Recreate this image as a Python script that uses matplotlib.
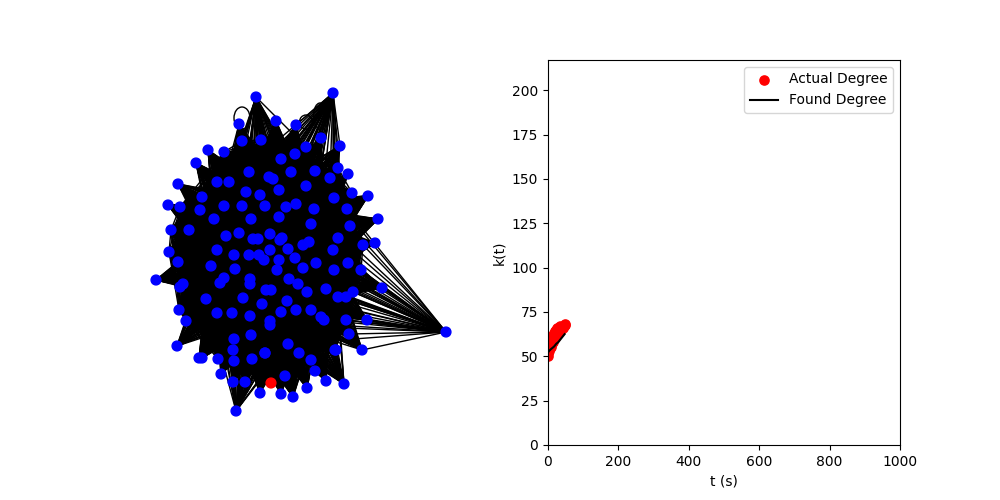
import numpy as np
import matplotlib
matplotlib.use('Agg')
import matplotlib.pyplot as plt
from matplotlib.collections import LineCollection
from matplotlib.patches import Ellipse

# node positions, picture pixels
node_x = [256,333,239,276,296,242,261,321,306,340,208,224,196,295,281,249,291,315,338,348,
          269,273,330,217,229,178,306,279,246,260,352,368,202,334,168,180,224,242,265,286,
          296,314,347,200,378,214,251,279,311,350,171,189,239,226,270,253,258,282,280,338,
          309,303,363,375,169,217,270,288,333,234,249,259,264,279,178,316,295,303,348,211,
          235,277,334,361,156,224,220,250,250,289,298,271,266,183,180,307,326,382,353,346,
          338,206,243,287,262,179,296,311,281,217,232,250,270,346,186,367,321,324,270,446,
          349,336,233,234,202,252,265,288,177,265,362,335,299,251,199,218,234,311,315,221,
          233,245,285,326,344,271,260,281,293,307,236]
node_y = [97,93,124,121,125,141,140,138,147,146,150,152,163,154,159,172,172,171,168,174,
          177,179,178,182,182,184,186,190,192,195,193,196,197,198,205,207,206,206,206,207,
          204,209,209,210,219,219,219,217,224,226,230,230,233,236,234,239,239,238,240,238,
          242,245,245,243,252,250,250,249,250,255,255,255,260,260,262,263,258,268,263,266,
          269,270,270,270,280,278,283,279,284,279,284,290,290,284,287,292,289,288,292,297,
          297,299,298,301,304,310,310,310,312,313,313,316,321,320,321,320,317,320,325,332,
          334,350,350,339,358,359,353,344,346,353,350,350,353,335,358,359,361,360,371,374,
          382,382,376,381,384,383,393,394,397,388,411]

red_node = (271, 383)

# extra long edges seen outside the dense part, (x, y) of both ends
edge_from = [(256,97), (333,93), (446,332), (446,332), (446,332)]
edge_to = [(306,147), (340,146), (367,321), (382,288), (362,350)]

# self loops: centre x, centre y, width, height
loop_x = [242, 306, 320]
loop_y = [118, 122, 116]
loop_w = [16, 13, 13]
loop_h = [22, 14, 26]

# body of the network
body_x, body_y = 268, 255
body_rx, body_ry = 105, 135
fan_size = 45
fan_angle = 28

# right panel, degree scatters around the trend so a low and a high run are kept
t_actual = [0,2,4,6,8,10,12,14,16,18,20,22,24,26,28,30,32,34,36,38,40,42,44,46,48,50,
            2,5,8,11,14,17,20,23,26,29,32,35]
k_actual = [50,52,53,54.5,55.5,56.5,57.5,58,59,60,60.5,61,62,62.5,63,63.5,64,64.5,65,65.5,66,66,66.5,67,67.5,68,
            55,57,59,61,62,63,64,65,66,66,66,67]
t_found = [0,6,12,18,24,30,36,42,48]
k_found = [52,53.5,54.5,55.5,57,58,59.5,61,62.5]
x_ticks = [0,200,400,600,800,1000]
y_ticks = [0,25,50,75,100,125,150,175,200]

fig = plt.figure(figsize=(10, 5), dpi=100)

ax1 = fig.add_axes([0, 0, 0.5, 1])
ax1.set_xlim(0, 500)
ax1.set_ylim(500, 0)
ax1.axis('off')

pts = np.column_stack([node_x, node_y]).astype(float)
centre = np.array([body_x, body_y], dtype=float)
rad = np.hypot((pts[:, 0] - body_x) / body_rx, (pts[:, 1] - body_y) / body_ry)
core = np.where(rad < 0.95)[0]

segs = []
# core nodes all see each other, that is what makes the middle solid black
for n, i in enumerate(core):
    for j in core[n + 1:]:
        segs.append([pts[i], pts[j]])
# outer nodes fan in towards the middle
for i in np.where(rad >= 0.95)[0]:
    p = pts[i]
    to_c = centre - p
    v = pts - p
    d = np.hypot(v[:, 0], v[:, 1])
    d[i] = 1e9
    cosang = (v @ to_c) / (d * np.hypot(*to_c))
    ok = np.where(cosang > np.cos(np.radians(fan_angle)))[0]
    for j in ok[np.argsort(d[ok])][:fan_size]:
        segs.append([p, pts[j]])
for a, b in zip(edge_from, edge_to):
    segs.append([a, b])
ax1.add_collection(LineCollection(segs, colors='k', linewidths=1, zorder=1))

for x, y, w, h in zip(loop_x, loop_y, loop_w, loop_h):
    ax1.add_patch(Ellipse((x, y), w, h, fill=False, ec='k', lw=1, zorder=1))

colors = ['r' if (x, y) == red_node else 'b' for x, y in zip(node_x, node_y)]
ax1.scatter(node_x, node_y, s=50, c=colors, zorder=2)

ax2 = fig.add_subplot(1, 2, 2)
h1 = ax2.scatter(t_actual, k_actual, s=44, color='r', label='Actual Degree')
h2, = ax2.plot(t_found, k_found, color='k', label='Found Degree')
ax2.set_xlim(0, 1000)
ax2.set_ylim(0, 217)
ax2.set_xticks(x_ticks)
ax2.set_yticks(y_ticks)
ax2.set_xlabel('t (s)')
ax2.set_ylabel('k(t)')
ax2.legend(handles=[h1, h2], loc='upper right')

fig.savefig('out.png', dpi=100)
